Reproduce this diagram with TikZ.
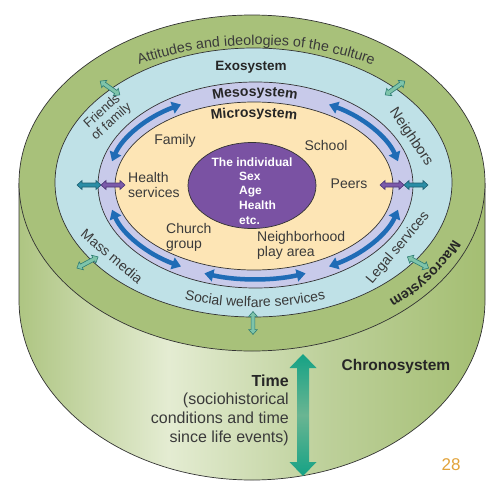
\documentclass[tikz,border=0pt]{standalone}
\usepackage{fontspec}
\setmainfont{Liberation Sans}
\usetikzlibrary{arrows.meta,decorations.text,calc}
\definecolor{grtop}{HTML}{A8C17A}
\definecolor{grdark}{HTML}{AEC582}
\definecolor{grpale}{HTML}{E4ECD2}
\definecolor{grmid}{HTML}{BDD09A}
\definecolor{grright}{HTML}{A4BE72}
\definecolor{exo}{HTML}{BFE1E7}
\definecolor{meso}{HTML}{C8CAEA}
\definecolor{micro}{HTML}{FDE5B5}
\definecolor{indiv}{HTML}{7A52A3}
\definecolor{arrblue}{HTML}{1F6CB6}
\definecolor{txt}{HTML}{3A3A3A}
\definecolor{txtb}{HTML}{262626}
\definecolor{tealA}{HTML}{15A285}
\definecolor{tealB}{HTML}{6AB592}
\definecolor{pagenum}{HTML}{E2A33A}
\definecolor{sarrfill}{HTML}{7EC4AA}
\definecolor{sarrdraw}{HTML}{2F7D74}
\definecolor{harrfill}{HTML}{2A8DA6}
\definecolor{harrdraw}{HTML}{1D5E70}
\definecolor{parrfill}{HTML}{7B5AAA}
\definecolor{parrdraw}{HTML}{4B3575}
\definecolor{outl}{HTML}{333333}
\pgfdeclarehorizontalshading{cyl}{100bp}{color(0bp)=(grdark); color(25bp)=(grdark); color(41bp)=(grpale); color(58bp)=(grmid); color(75bp)=(grright); color(100bp)=(grright)}
\tikzset{
  ring/.style={draw=outl, line width=0.7pt},
  lbl/.style={font=\fontsize{14}{16}\selectfont, text=txt, inner sep=0pt},
  sys/.style={font=\fontsize{14}{16}\selectfont\bfseries, text=txtb, inner sep=0pt},
  bluearr/.style={draw=arrblue, line width=4.5pt, {Triangle[length=9pt,width=12pt]}-{Triangle[length=9pt,width=12pt]}},
  dbl/.pic={\path[pic actions] (-12,0) -- (-7,-4.5) -- (-7,-2) -- (7,-2) -- (7,-4.5) -- (12,0) -- (7,4.5) -- (7,2) -- (-7,2) -- (-7,4.5) -- cycle;},
  sarr/.style={fill=sarrfill, draw=sarrdraw, line width=0.6pt},
  harr/.style={fill=harrfill, draw=harrdraw, line width=0.6pt},
  parr/.style={fill=parrfill, draw=parrdraw, line width=0.6pt}
}
\begin{document}
\begin{tikzpicture}[x=1pt,y=-1pt]
\useasboundingbox (0,0) rectangle (503,501);
\fill[white] (0,0) rectangle (503,501);
% cylinder body
\shade[shading=cyl] (19,183) -- (19,300) arc[start angle=180, end angle=360, x radius=233pt, y radius=180pt] -- (485,183) -- cycle;
\draw[ring] (19,183) -- (19,300) arc[start angle=180, end angle=360, x radius=233pt, y radius=180pt] -- (485,183);
% top face rings
\filldraw[ring, fill=grtop] (252,183) ellipse[x radius=233pt, y radius=168pt];
\filldraw[ring, fill=exo] (253.5,182.5) ellipse[x radius=198.5pt, y radius=134.5pt];
\filldraw[ring, fill=meso] (255.5,185) ellipse[x radius=157.5pt, y radius=103pt];
\filldraw[ring, fill=micro] (254,186) ellipse[x radius=139pt, y radius=84pt];
\filldraw[ring, fill=indiv] (252,185.5) ellipse[x radius=64pt, y radius=43pt];
% blue mesosystem arrows
\coordinate (M) at (255,185.5);
\draw[bluearr] ([shift={(120:148pt and 93.5pt)}]M) arc[start angle=120, end angle=165, x radius=148pt, y radius=93.5pt];
\draw[bluearr] ([shift={(60:148pt and 93.5pt)}]M) arc[start angle=60, end angle=15, x radius=148pt, y radius=93.5pt];
\draw[bluearr] ([shift={(195:148pt and 93.5pt)}]M) arc[start angle=195, end angle=240, x radius=148pt, y radius=93.5pt];
\draw[bluearr] ([shift={(250:148pt and 93.5pt)}]M) arc[start angle=250, end angle=290, x radius=148pt, y radius=93.5pt];
\draw[bluearr] ([shift={(300:148pt and 93.5pt)}]M) arc[start angle=300, end angle=345, x radius=148pt, y radius=93.5pt];
% small double arrows
\pic[sarr, rotate=-35] at (110,88) {dbl};
\pic[sarr, rotate=35] at (395,88) {dbl};
\pic[harr] at (89,185) {dbl};
\pic[parr] at (113,185) {dbl};
\pic[parr] at (392,185) {dbl};
\pic[harr] at (416,185) {dbl};
\pic[sarr, rotate=28] at (87.5,262.5) {dbl};
\pic[sarr, rotate=-28] at (418,262.5) {dbl};
\pic[sarr, rotate=90, scale=0.95] at (253,323) {dbl};
% big time arrow
\shade[top color=tealA, bottom color=tealA, middle color=tealB] (303,354) -- (316.5,368) -- (309,368) -- (309,462) -- (316.5,462) -- (303,476) -- (289.5,462) -- (297,462) -- (297,368) -- (289.5,368) -- cycle;
% curved texts
\path[decorate, decoration={text along path, text align=center, text={|\fontsize{14.3}{17}\selectfont\color{txt}|Attitudes and ideologies of the culture}}] (60.3,114.5) arc[start angle=150, end angle=30, x radius=226pt, y radius=139pt];
\path[decorate, decoration={text along path, text align=center, text={|\fontsize{14}{16}\selectfont\bfseries\color{txtb}|Mesosystem}}] (161.8,116.8) arc[start angle=130, end angle=50, x radius=145pt, y radius=89pt];
\path[decorate, decoration={text along path, text align=center, text={|\fontsize{14}{16}\selectfont\bfseries\color{txtb}|Microsystem}}] (168,129.3) arc[start angle=125, end angle=55, x radius=150pt, y radius=68pt];
\path[decorate, decoration={text along path, text align=center, text={|\fontsize{14}{16}\selectfont\color{txt}|Social welfare services}}] (140.3,284.8) arc[start angle=235, end angle=305, x radius=200pt, y radius=123pt];
\path[decorate, decoration={text along path, text align=center, text={|\fontsize{14}{16}\selectfont\bfseries\color{txtb}|Macrosystem}}] (466.9,204) arc[start angle=-8, end angle=-62, x radius=216pt, y radius=151pt];
% straight labels
\node[sys, font=\fontsize{13.5}{16}\selectfont\bfseries] (exo) at (251,67) {Exosystem};
\node[lbl, font=\fontsize{13}{14}\selectfont, align=center, rotate=42] (friends) at (107,117) {Friends\\of family};
\node[lbl, font=\fontsize{14.5}{16}\selectfont, rotate=-56] (neigh) at (411,137) {Neighbors};
\node[lbl, rotate=-40] (mass) at (112,256) {Mass media};
\node[lbl, rotate=50] (legal) at (398,248) {Legal services};
\node[lbl] (family) at (175,141) {Family};
\node[lbl] (school) at (326,145) {School};
\node[lbl, anchor=west, align=left, font=\fontsize{14}{15}\selectfont] (health) at (128,185) {Health\\services};
\node[lbl] (peers) at (349,184) {Peers};
\node[lbl, anchor=west, align=left, font=\fontsize{14}{15}\selectfont] (church) at (166,237) {Church\\group};
\node[lbl, anchor=west, align=left, font=\fontsize{14}{15}\selectfont] (nbh) at (257,245) {Neighborhood\\play area};
\node[inner sep=0pt, text=white, font=\fontsize{12}{14.6}\selectfont\bfseries] (indiv) at (252,162) {The individual};
\node[inner sep=0pt, text=white, font=\fontsize{12}{14.6}\selectfont\bfseries, anchor=west, align=left] (attrs) at (239,198) {Sex\\Age\\Health\\etc.};
\node[sys, font=\fontsize{15.5}{18}\selectfont\bfseries] (chrono) at (396,366) {Chronosystem};
\node[inner sep=0pt, text=txt, anchor=east, align=right, font=\fontsize{16}{18.7}\selectfont] (time) at (289,410) {{\bfseries\color{txtb}Time}\\(sociohistorical\\conditions and time\hspace{4pt}\\since life events)};
\node[inner sep=0pt, text=pagenum, font=\fontsize{17}{20}\selectfont] (pg) at (451,465) {28};
\end{tikzpicture}
\end{document}
